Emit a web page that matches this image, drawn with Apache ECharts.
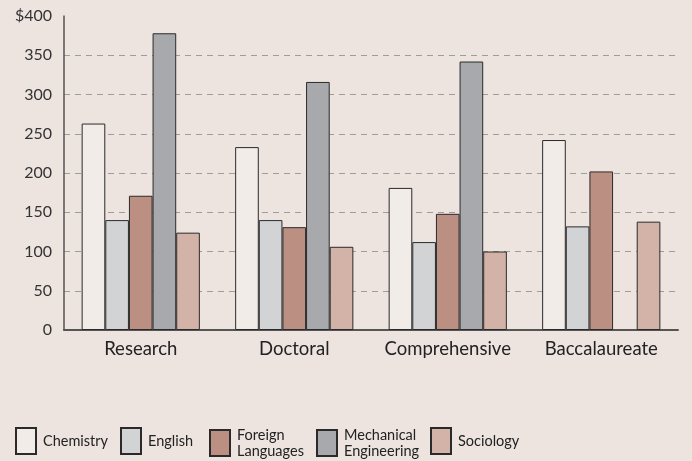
<!DOCTYPE html>
<html><head><meta charset="utf-8">
<script src="https://cdn.jsdelivr.net/npm/echarts@6/dist/echarts.min.js"></script>
<style>html,body{margin:0;padding:0;background:#ede4e0}#c{width:692px;height:461px}</style>
</head><body><div id="c"></div>
<script>
const categories = ['Research', 'Doctoral', 'Comprehensive', 'Baccalaureate'];
const seriesNames = ['Chemistry', 'English', 'Foreign\nLanguages', 'Mechanical\nEngineering', 'Sociology'];
const chemistry = [263, 233, 181, 242];
const english = [140, 140, 112, 132];
const foreignLanguages = [171, 131, 148, 202];
const mechanicalEngineering = [378, 316, 342, null];
const sociology = [124, 106, 100, 138];
const yTicks = [0, 50, 100, 150, 200, 250, 300, 350, 400];

const colors = ['#f2ece8', '#d1d3d5', '#bb8f82', '#a7a9ac', '#d3b3a7'];
const values = [chemistry, english, foreignLanguages, mechanicalEngineering, sociology];
const legendLefts = [15, 120, 209, 316, 430];
const FONT = 'Lato';

const chart = echarts.init(document.getElementById('c'));
chart.setOption({
  backgroundColor: '#ede4e0',
  animation: false,
  textStyle: { fontFamily: FONT },
  grid: { left: 64, right: 14, top: 16, bottom: 131 },
  xAxis: {
    type: 'category', data: categories,
    axisLine: { lineStyle: { color: '#555', width: 2 } },
    axisTick: { show: false },
    axisLabel: { color: '#222', fontSize: 18.5, margin: 10, fontFamily: FONT, interval: 0, hideOverlap: false }
  },
  yAxis: {
    type: 'value', min: yTicks[0], max: yTicks[yTicks.length - 1], interval: 50,
    axisLine: { show: true, lineStyle: { color: '#555', width: 1.5 } },
    axisTick: { show: false },
    axisLabel: { color: '#333', fontSize: 16, margin: 12, fontFamily: FONT,
      formatter: v => v === 400 ? '$' + v : String(v) },
    splitLine: { show: true, showMaxLine: false, lineStyle: { color: '#a09c9a', type: [6, 5], width: 1 } }
  },
  legend: seriesNames.map((n, i) => ({
    data: [n], left: legendLefts[i], top: 427, itemWidth: 20, itemHeight: 26, itemGap: 0,
    icon: 'rect',
    textStyle: { fontSize: 14.5, color: '#222', lineHeight: 16, fontFamily: FONT, padding: [0, 0, 0, 2] },
    padding: 0
  })),
  series: seriesNames.map((n, i) => ({
    name: n, type: 'bar', data: values[i],
    barGap: '0%', barCategoryGap: '23%',
    itemStyle: { color: colors[i], borderColor: '#2a2a2a', borderWidth: 1 }
  }))
});
</script></body></html>
